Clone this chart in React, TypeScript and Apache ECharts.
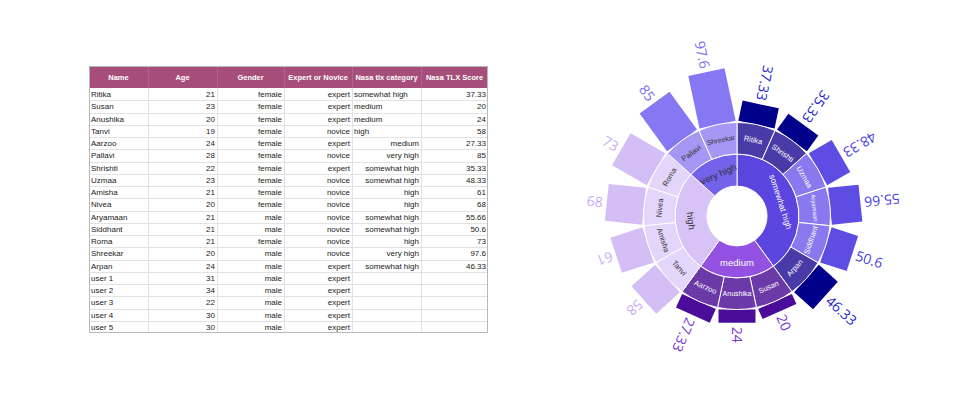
import React, { useEffect, useRef } from 'react';
import * as echarts from 'echarts';

// ---------- data ----------
const participantNames = ['Ritika', 'Susan', 'Anushika', 'Tanvi', 'Aarzoo', 'Pallavi', 'Shrishti', 'Uzmaa', 'Amisha', 'Nivea', 'Aryamaan', 'Siddhant', 'Roma', 'Shreekar', 'Arpan', 'user 1', 'user 2', 'user 3', 'user 4', 'user 5'];
const ages = [21, 23, 20, 19, 24, 28, 22, 23, 21, 20, 21, 21, 21, 20, 24, 31, 34, 22, 30, 30];
const genders = ['female', 'female', 'female', 'female', 'female', 'female', 'female', 'female', 'female', 'female', 'male', 'male', 'female', 'male', 'male', 'male', 'male', 'male', 'male', 'male'];
const expertise = ['expert', 'expert', 'expert', 'novice', 'expert', 'novice', 'expert', 'novice', 'novice', 'novice', 'novice', 'novice', 'novice', 'novice', 'expert', 'expert', 'expert', 'expert', 'expert', 'expert'];
const tlxCategories = ['somewhat high', 'medium', 'medium', 'high', 'medium', 'very high', 'somewhat high', 'somewhat high', 'high', 'high', 'somewhat high', 'somewhat high', 'high', 'very high', 'somewhat high', '', '', '', '', ''];
const tlxScores: (number | null)[] = [37.33, 20, 24, 58, 27.33, 85, 35.33, 48.33, 61, 68, 55.66, 50.6, 73, 97.6, 46.33, null, null, null, null, null];
const tableHeaders = ['Name', 'Age', 'Gender', 'Expert or Novice', 'Nasa tlx category', 'Nasa TLX Score'];
const categoryOrder = ['somewhat high', 'medium', 'high', 'very high'];
const scoreAxisMax = 100;

// ---------- styles / layout ----------
const COL_X = [89, 148, 217, 284, 352, 421, 488];
const HEAD_TOP = 66;
const HEAD_BOTTOM = 88;
const ROW_H = 12.25;
const LEFT_CATEGORY_ROWS = 4;
const HEADER_COLOR = '#a64d79';
const GRID_COLOR = '#e2e2e2';
const BORDER_COLOR = '#b9b9b9';
const TABLE_FONT = 'Liberation Sans, Arial, sans-serif';

const CX = 737;
const CY = 216;
const R0 = 30;
const R1 = 62;
const R2 = 93.5;
const BAR_LEN = 55;
const BAR_WIDTH = 37;
const LABEL_GAP = 4;

const ringColors: Record<string, string> = { 'somewhat high': '#5b45de', medium: '#9351e2', high: '#d8c3f7', 'very high': '#7462ea' };
const ringText: Record<string, string> = { 'somewhat high': '#ffffff', medium: '#ffffff', high: '#333333', 'very high': '#333333' };
const nameColors: Record<string, string> = { 'somewhat high|expert': '#4a3aa8', 'somewhat high|novice': '#8a79ee', 'medium|expert': '#6b3aa8', 'high|novice': '#e4d5fa', 'very high|novice': '#a797f5' };
const nameText: Record<string, string> = { 'somewhat high|expert': '#ffffff', 'somewhat high|novice': '#ffffff', 'medium|expert': '#ffffff', 'high|novice': '#333333', 'very high|novice': '#333333' };
const barColors: Record<string, string> = { 'somewhat high|expert': '#00008b', 'somewhat high|novice': '#5e4de2', 'medium|expert': '#4a0c99', 'high|novice': '#d4bef6', 'very high|novice': '#8677f2' };
const barLabelColors: Record<string, string> = { 'somewhat high|expert': '#2323c9', 'somewhat high|novice': '#4b3ee0', 'medium|expert': '#7935d6', 'high|novice': '#c7adf2', 'very high|novice': '#8070f0' };
const nameFontSize: Record<string, number> = { Aryamaan: 6, Anushika: 7, Shreekar: 7 };

// ---------- derived ----------
const tableRows = participantNames.map((name, i) => ({
  name, age: ages[i], gender: genders[i], level: expertise[i], cat: tlxCategories[i], score: tlxScores[i],
}));
const chartRows = categoryOrder.flatMap((cat) => tableRows.filter((r) => r.cat === cat && r.score != null));

function buildTable(): any[] {
  const els: any[] = [];
  const left = COL_X[0];
  const right = COL_X[COL_X.length - 1];
  const bottom = HEAD_BOTTOM + ROW_H * tableRows.length;
  els.push({ type: 'rect', shape: { x: left, y: HEAD_TOP, width: right - left, height: HEAD_BOTTOM - HEAD_TOP }, style: { fill: HEADER_COLOR } });
  for (let c = 1; c < COL_X.length - 1; c++) {
    els.push({ type: 'line', shape: { x1: COL_X[c] + 0.5, y1: HEAD_TOP, x2: COL_X[c] + 0.5, y2: HEAD_BOTTOM }, style: { stroke: 'rgba(255,255,255,0.12)', lineWidth: 1 } });
    els.push({ type: 'line', shape: { x1: COL_X[c] + 0.5, y1: HEAD_BOTTOM, x2: COL_X[c] + 0.5, y2: bottom }, style: { stroke: GRID_COLOR, lineWidth: 1 } });
  }
  for (let r = 1; r < tableRows.length; r++) {
    const y = Math.round(HEAD_BOTTOM + r * ROW_H) + 0.5;
    els.push({ type: 'line', shape: { x1: left, y1: y, x2: right, y2: y }, style: { stroke: GRID_COLOR, lineWidth: 1 } });
  }
  els.push({ type: 'rect', shape: { x: left + 0.5, y: HEAD_TOP + 0.5, width: right - left - 1, height: bottom - HEAD_TOP - 1 }, style: { fill: 'none', stroke: BORDER_COLOR, lineWidth: 1 } });
  tableHeaders.forEach((h, c) => {
    els.push({
      type: 'text', x: (COL_X[c] + COL_X[c + 1]) / 2, y: (HEAD_TOP + HEAD_BOTTOM) / 2,
      style: { text: h, fill: '#ffffff', font: `bold 7.5px ${TABLE_FONT}`, align: 'center', verticalAlign: 'middle', textAlign: 'center', textVerticalAlign: 'middle' },
    });
  });
  tableRows.forEach((row, r) => {
    const y = HEAD_BOTTOM + r * ROW_H + ROW_H / 2 + 0.5;
    const cells: [string, 'left' | 'right'][] = [
      [row.name, 'left'],
      [String(row.age), 'right'],
      [row.gender, 'right'],
      [row.level, 'right'],
      [row.cat, r < LEFT_CATEGORY_ROWS ? 'left' : 'right'],
      [row.score == null ? '' : String(row.score), 'right'],
    ];
    cells.forEach(([text, align], c) => {
      if (!text) return;
      const x = align === 'left' ? COL_X[c] + 2 : COL_X[c + 1] - 2;
      els.push({
        type: 'text', x, y,
        style: { text, fill: '#222222', font: `8px ${TABLE_FONT}`, align, verticalAlign: 'middle', textAlign: align, textVerticalAlign: 'middle' },
      });
    });
  });
  return els;
}

function buildOption(): any {
  const sunData = categoryOrder.map((cat) => ({
    name: cat,
    itemStyle: { color: ringColors[cat] },
    label: { color: ringText[cat], fontSize: cat === 'somewhat high' ? 8.5 : 9.5 },
    children: chartRows.filter((r) => r.cat === cat).map((r) => {
      const key = `${r.cat}|${r.level}`;
      return {
        name: r.name,
        value: 1,
        itemStyle: { color: nameColors[key] },
        label: { color: nameText[key], fontSize: nameFontSize[r.name] ?? 7.5 },
      };
    }),
  }));

  return {
    animation: false,
    backgroundColor: '#ffffff',
    textStyle: { fontFamily: 'Liberation Sans, Arial, sans-serif' },
    graphic: { elements: buildTable() },
    polar: { center: [CX, CY], radius: [R2, R2 + BAR_LEN] },
    angleAxis: { type: 'category', data: chartRows.map((r) => r.name), startAngle: 90, clockwise: true, boundaryGap: true, show: false },
    radiusAxis: { type: 'value', min: 0, max: scoreAxisMax, show: false },
    series: [
      {
        type: 'sunburst',
        center: [CX, CY],
        radius: [R0, R2],
        startAngle: 90,
        clockwise: true,
        sort: null,
        nodeClick: false,
        emphasis: { focus: 'none' },
        itemStyle: { borderColor: '#ffffff', borderWidth: 1 },
        label: { rotate: 'tangential', fontFamily: 'Liberation Sans, Arial, sans-serif' },
        levels: [
          {},
          { r0: R0, r: R1, label: { rotate: 'tangential' } },
          { r0: R1, r: R2, label: { rotate: 'tangential' } },
        ],
        data: sunData,
      },
      {
        type: 'custom',
        coordinateSystem: 'polar',
        data: chartRows.map((r, i) => [r.score, i]),
        encode: { radius: 0, angle: 1 },
        renderItem: (params: any, api: any) => {
          const score = api.value(0) as number;
          const idx = api.value(1) as number;
          const row = chartRows[params.dataIndex];
          const key = `${row.cat}|${row.level}`;
          const p0 = api.coord([0, idx]);
          const p1 = api.coord([score, idx]);
          const dx = p1[0] - p0[0];
          const dy = p1[1] - p0[1];
          const len = Math.hypot(dx, dy) || 1;
          const ux = dx / len;
          const uy = dy / len;
          const nx = -uy;
          const ny = ux;
          const hw = BAR_WIDTH / 2;
          const pts = [
            [p0[0] + nx * hw, p0[1] + ny * hw],
            [p1[0] + nx * hw, p1[1] + ny * hw],
            [p1[0] - nx * hw, p1[1] - ny * hw],
            [p0[0] - nx * hw, p0[1] - ny * hw],
          ];
          const outward = uy > 0.001;
          const ang = Math.atan2(-uy, ux);
          const rotation = outward ? ang : ang + Math.PI;
          const align = outward ? 'left' : 'right';
          return {
            type: 'group',
            children: [
              { type: 'polygon', shape: { points: pts }, style: { fill: barColors[key] } },
              {
                type: 'text',
                x: p1[0] + ux * LABEL_GAP,
                y: p1[1] + uy * LABEL_GAP,
                rotation,
                style: {
                  text: String(score),
                  fill: barLabelColors[key],
                  fontSize: 14,
                  fontFamily: 'Open Sans, Liberation Sans, sans-serif',
                  align,
                  verticalAlign: 'middle',
                },
              },
            ],
          };
        },
      },
    ],
  };
}

export default function App() {
  const ref = useRef<HTMLDivElement>(null);
  useEffect(() => {
    if (!ref.current) return;
    const chart = echarts.init(ref.current, null, { renderer: 'svg' });
    chart.setOption(buildOption());
    return () => chart.dispose();
  }, []);
  return <div ref={ref} style={{ position: 'fixed', left: 0, top: 0, width: 980, height: 398, background: '#fff' }} />;
}
